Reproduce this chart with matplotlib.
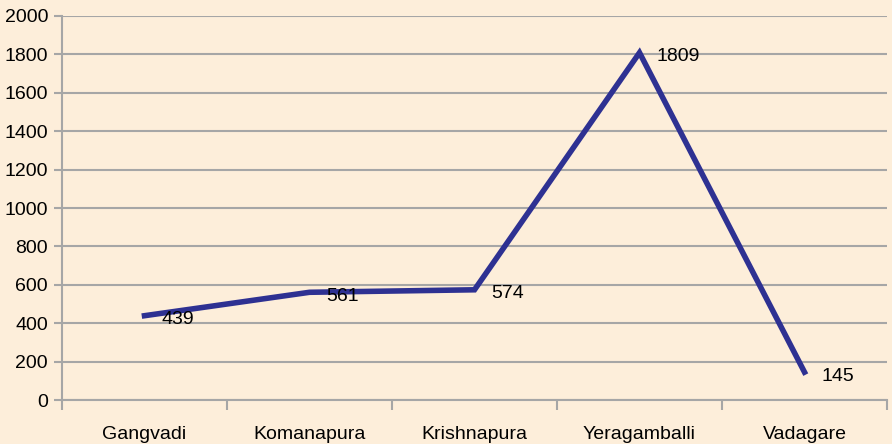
import matplotlib.pyplot as plt
import numpy as np

villages = ['Gangvadi', 'Komanapura', 'Krishnapura', 'Yeragamballi', 'Vadagare']
counts = [439, 561, 574, 1809, 145]

plt.rcParams['font.family'] = ['Liberation Sans Narrow', 'Liberation Sans', 'DejaVu Sans']

bg = '#FDEEDA'
fig = plt.figure(figsize=(8.92, 4.44), dpi=100, facecolor=bg)
ax = fig.add_axes([62/892, 44/444, 825/892, 384/444])
ax.set_facecolor(bg)

x = np.arange(len(villages))
ax.plot(x, counts, color='#2E3192', linewidth=4, solid_joinstyle='miter', zorder=3)
for xi, v in zip(x, counts):
    ax.annotate(str(v), (xi, v), xytext=(12, -3), textcoords='offset points',
                ha='left', va='center', fontsize=14, color='black')

ax.set_ylim(0, 2000)
ax.set_xlim(-0.5, len(villages) - 0.5)
ax.set_yticks(np.arange(0, 2001, 200))
ax.set_xticks(x)
ax.set_xticklabels(villages)
ax.set_xticks(np.arange(-0.5, len(villages)), minor=True)
ax.tick_params(axis='x', which='major', length=0, pad=19, labelsize=14)
ax.tick_params(axis='x', which='minor', length=7, width=1.5, color='#A6A6A6', direction='out')
ax.tick_params(axis='y', length=6, width=1.5, color='#A6A6A6', pad=4, labelsize=14)
ax.grid(axis='y', color='#A6A6A6', linewidth=1.5)
ax.set_axisbelow(True)
for s in ['top', 'right']:
    ax.spines[s].set_visible(False)
for s in ['left', 'bottom']:
    ax.spines[s].set_color('#A6A6A6')
    ax.spines[s].set_linewidth(1.5)

plt.savefig('out.png', dpi=100, facecolor=bg)
